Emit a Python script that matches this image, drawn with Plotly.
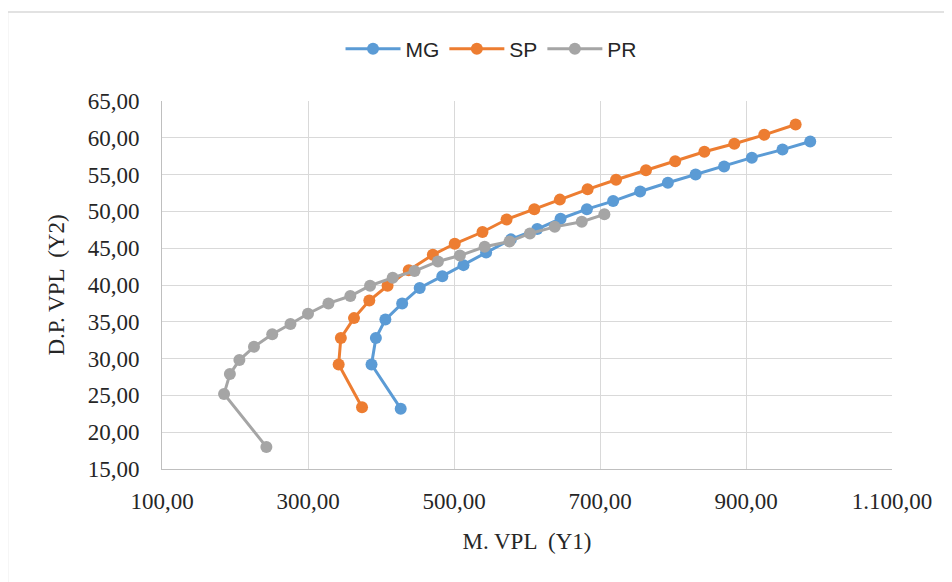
import plotly.graph_objects as go

mg_x = [427, 387, 393, 406, 429, 453, 484, 513, 544, 578, 614, 646, 682, 718, 755, 793, 831, 870, 908, 950, 988]
mg_y = [23.2, 29.2, 32.8, 35.3, 37.5, 39.6, 41.2, 42.7, 44.4, 46.2, 47.6, 49.0, 50.3, 51.4, 52.7, 53.9, 55.0, 56.1, 57.3, 58.4, 59.5]

sp_x = [374, 342, 345, 363, 384, 409, 438, 471, 501, 539, 572, 610, 645, 683, 722, 763, 803, 843, 884, 925, 968]
sp_y = [23.4, 29.2, 32.8, 35.5, 37.9, 39.9, 42.0, 44.1, 45.6, 47.2, 48.9, 50.3, 51.6, 53.0, 54.3, 55.6, 56.8, 58.1, 59.2, 60.4, 61.8]

pr_x = [243, 185, 193, 206, 226, 251, 276, 300, 328, 358, 385, 416, 446, 478, 508, 542, 576, 604, 638, 675, 706]
pr_y = [18.0, 25.2, 27.9, 29.8, 31.6, 33.3, 34.7, 36.1, 37.5, 38.5, 39.9, 41.0, 41.9, 43.2, 44.0, 45.2, 45.9, 47.0, 47.9, 48.6, 49.6]

series = [("MG", mg_x, mg_y, "#5B9BD5"), ("SP", sp_x, sp_y, "#ED7D31"), ("PR", pr_x, pr_y, "#A5A5A5")]

x_title = "M. VPL  (Y1)"
y_title = "D.P. VPL  (Y2)"

fig = go.Figure()
for name, xs, ys, col in series:
    fig.add_trace(go.Scatter(x=xs, y=ys, name=name, mode="lines+markers",
                             line=dict(color=col, width=3),
                             marker=dict(color=col, size=12)))

serif = "Liberation Serif, Times New Roman, serif"
txt = "#262626"
fig.update_layout(
    width=952, height=582,
    paper_bgcolor="white", plot_bgcolor="white",
    separators=",.",
    margin=dict(l=154, r=68, t=93, b=121, autoexpand=False),
    showlegend=True,
    legend=dict(orientation="h", x=0.4514, xanchor="center", y=1.141, yanchor="middle",
                bgcolor="rgba(0,0,0,0)",
                font=dict(family="Liberation Sans, Arial, sans-serif", size=21, color=txt),
                itemwidth=55, traceorder="normal"),
    xaxis=dict(range=[100, 1100], tick0=100, dtick=200, tickformat=",.2f",
               showgrid=True, gridcolor="#D9D9D9", gridwidth=1,
               showline=True, linecolor="#BFBFBF", linewidth=1, zeroline=False,
               ticks="outside", ticklen=11, tickcolor="rgba(0,0,0,0)",
               tickfont=dict(family=serif, size=23, color=txt),
               title=dict(text=x_title, font=dict(family=serif, size=23, color=txt), standoff=20)),
    yaxis=dict(range=[15, 65], tick0=15, dtick=5, tickformat=",.2f",
               showgrid=True, gridcolor="#D9D9D9", gridwidth=1,
               showline=True, linecolor="#BFBFBF", linewidth=1, zeroline=False,
               ticks="outside", ticklen=17, tickcolor="rgba(0,0,0,0)",
               tickfont=dict(family=serif, size=23, color=txt),
               title=dict(text=y_title, font=dict(family=serif, size=23, color=txt), standoff=16)),
    shapes=[dict(type="rect", xref="paper", yref="paper",
                 x0=(7.5 - 162) / 730, x1=(960 - 162) / 730,
                 y0=(469 - 600) / 368, y1=(469 - 12) / 368,
                 line=dict(color="#D9D9D9", width=1.5), fillcolor="rgba(0,0,0,0)", layer="below")],
)

fig.write_html("out.html")
